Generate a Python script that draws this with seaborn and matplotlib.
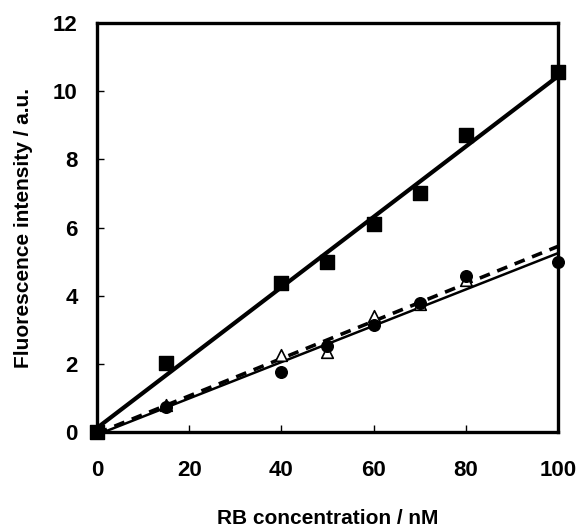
import numpy as np
import pandas as pd
import matplotlib
matplotlib.use("Agg")
import matplotlib.pyplot as plt
import seaborn as sns

# RB concentration (nM)
conc = [0, 15, 40, 50, 60, 70, 80, 100]
# fluorescence intensity (a.u.) for the three series
squares = [0.0, 2.03, 4.36, 5.0, 6.1, 7.0, 8.72, 10.57]
circles = [0.0, 0.72, 1.76, 2.52, 3.14, 3.78, 4.57, 4.98]
# open triangles: no point visible at 100 nM
conc_tr = [0, 15, 40, 50, 60, 70, 80]
triangles = [0.0, 0.80, 2.26, 2.35, 3.40, 3.75, 4.45]

df = pd.DataFrame({"conc": conc, "sq": squares, "ci": circles})
df_tr = pd.DataFrame({"conc": conc_tr, "tr": triangles})

sns.set_theme(style="ticks")
plt.rcParams["font.family"] = ["Liberation Sans", "DejaVu Sans"]
plt.rcParams["font.weight"] = "bold"
plt.rcParams["text.color"] = "black"
plt.rcParams["axes.labelcolor"] = "black"
plt.rcParams["xtick.color"] = "black"
plt.rcParams["ytick.color"] = "black"

fig = plt.figure(figsize=(5.79, 5.31), dpi=100)
ax = fig.add_axes([0.1675, 0.1864, 0.7962, 0.7703])
ax.set_xlim(0, 100)
ax.set_ylim(0, 12)

sns.regplot(data=df_tr, x="conc", y="tr", ax=ax, ci=None, marker="^", truncate=False,
            scatter_kws={"s": 70, "facecolors": "white", "edgecolors": "black",
                         "linewidths": 1.2, "zorder": 3, "alpha": 1, "clip_on": False},
            line_kws={"color": "black", "lw": 2.6, "ls": (0, (3, 2.2)), "zorder": 2})
sns.regplot(data=df, x="conc", y="ci", ax=ax, ci=None, marker="o",
            scatter_kws={"s": 70, "color": "black", "zorder": 4, "alpha": 1, "clip_on": False},
            line_kws={"color": "black", "lw": 1.8, "zorder": 2})
sns.regplot(data=df, x="conc", y="sq", ax=ax, ci=None, marker="s",
            scatter_kws={"s": 110, "color": "black", "zorder": 4, "alpha": 1, "clip_on": False},
            line_kws={"color": "black", "lw": 3.0, "zorder": 2})

ax.set_xlim(0, 100)
ax.set_ylim(0, 12)
ax.set_xticks([0, 20, 40, 60, 80, 100])
ax.set_yticks([0, 2, 4, 6, 8, 10, 12])
ax.tick_params(direction="in", length=5, width=1, labelsize=16, color="black", labelcolor="black")
ax.tick_params(axis="x", pad=20)
ax.tick_params(axis="y", pad=14)
for lab in ax.get_xticklabels() + ax.get_yticklabels():
    lab.set_fontweight("bold")
for sp in ax.spines.values():
    sp.set_linewidth(2.4)
    sp.set_color("black")
    sp.set_visible(True)

ax.set_xlabel("RB concentration / nM", fontsize=15, fontweight="bold", labelpad=20)
ax.set_ylabel("Fluorescence intensity / a.u.", fontsize=15, fontweight="bold", labelpad=14)

fig.savefig("out.png", dpi=100, facecolor="w")
